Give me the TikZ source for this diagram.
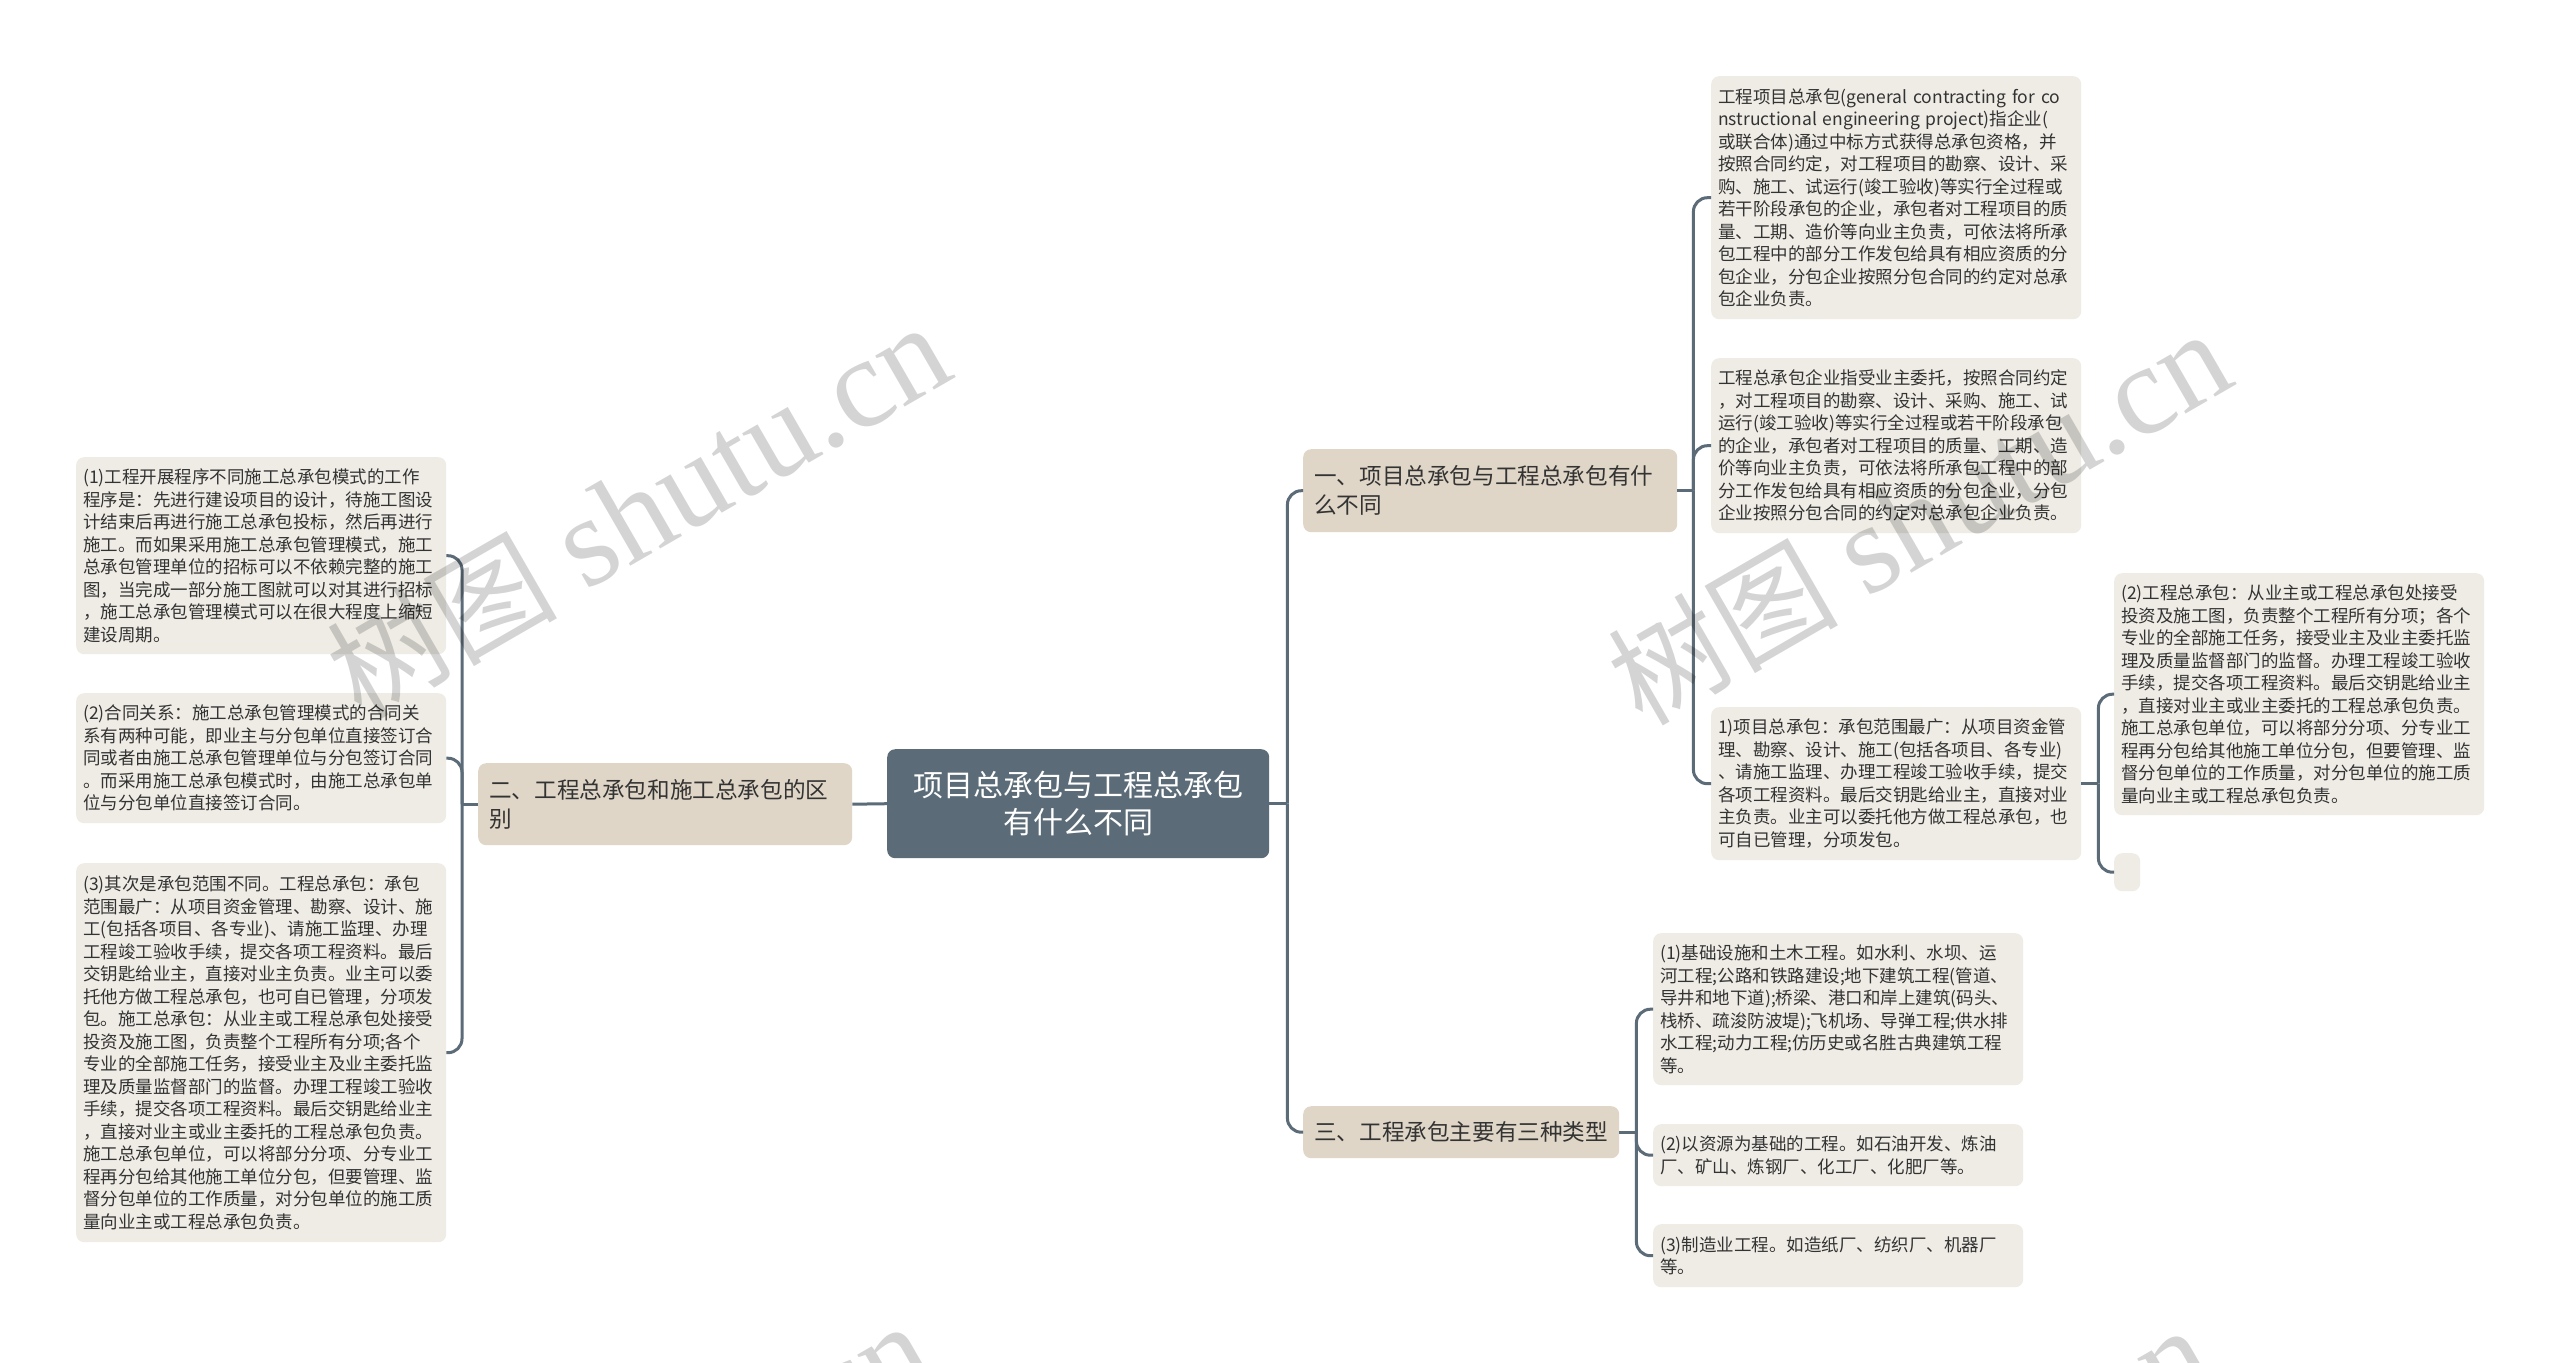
\documentclass[tikz,border=0pt]{standalone}
\usepackage{fontspec}
\setmainfont{Noto Sans CJK SC}
\newfontfamily\wmlatin{Liberation Serif}
\newfontfamily\wmcjk{Noto Sans CJK SC}
\hyphenpenalty=10000
\exhyphenpenalty=10000
\definecolor{slate}{HTML}{5B6B77}
\definecolor{branchfill}{HTML}{DFD6C7}
\definecolor{leaffill}{HTML}{EFECE5}
\definecolor{txt}{HTML}{333333}
\newcommand{\wmtext}{{\wmcjk\fontsize{115}{115}\selectfont 树图}\hspace{28pt}{\wmlatin\fontsize{128}{128}\selectfont shutu.cn}}
\begin{document}
\begin{tikzpicture}[x=1pt,y=-1pt,
  box/.style={anchor=north west, rounded corners=8pt, inner ysep=0pt, align=left, text=txt},
  leaf/.style={box, fill=leaffill, inner xsep=7pt, text width=356pt, minimum height=#1,
    font=\fontsize{17.5}{22.5}\selectfont},
  branch/.style={box, fill=branchfill, inner xsep=11pt, minimum height=#1,
    font=\fontsize{22.6}{29}\selectfont},
  root/.style={anchor=north west, rounded corners=8pt, fill=slate, text=white, align=center,
    inner xsep=11pt, inner ysep=0pt, text width=360pt, minimum height=109pt,
    font=\fontsize{30}{37.5}\selectfont},
  conn/.style={draw=slate, line width=3pt, rounded corners=14pt},
  wm/.style={rotate=30, text=black, text opacity=0.17, inner sep=0pt}
]
\fill[white] (0,0) rectangle (2560,1363);
\useasboundingbox (0,0) rectangle (2560,1363);

% root and branches
\node[root] (ctr) at (887,749) {项目总承包与工程总承包\\有什么不同};
\node[branch=82pt, text width=352pt] (b2) at (478,763) {二、工程总承包和施工总承包的区\\别};
\node[branch=83pt, text width=352pt] (b1) at (1303,449) {一、项目总承包与工程总承包有什\\么不同};
\node[branch=52pt, text width=294pt] (b3) at (1303,1106) {三、工程承包主要有三种类型};

% right branch 1 leaves
\node[leaf=243pt] (A) at (1711,76) {工程项目总承包(general~contracting~for~co\\nstructional~engineering~project)指企业(\\或联合体)通过中标方式获得总承包资格，并\\按照合同约定，对工程项目的勘察、设计、采\\购、施工、试运行(竣工验收)等实行全过程或\\若干阶段承包的企业，承包者对工程项目的质\\量、工期、造价等向业主负责，可依法将所承\\包工程中的部分工作发包给具有相应资质的分\\包企业，分包企业按照分包合同的约定对总承\\包企业负责。};
\node[leaf=175pt] (B) at (1711,358) {工程总承包企业指受业主委托，按照合同约定\\，对工程项目的勘察、设计、采购、施工、试\\运行(竣工验收)等实行全过程或若干阶段承包\\的企业，承包者对工程项目的质量、工期、造\\价等向业主负责，可依法将所承包工程中的部\\分工作发包给具有相应资质的分包企业，分包\\企业按照分包合同的约定对总承包企业负责。};
\node[leaf=153pt] (C) at (1711,707) {1)项目总承包：承包范围最广：从项目资金管\\理、勘察、设计、施工(包括各项目、各专业)\\、请施工监理、办理工程竣工验收手续，提交\\各项工程资料。最后交钥匙给业主，直接对业\\主负责。业主可以委托他方做工程总承包，也\\可自已管理，分项发包。};
\node[leaf=242pt] (D) at (2114,573) {(2)工程总承包：从业主或工程总承包处接受\\投资及施工图，负责整个工程所有分项；各个\\专业的全部施工任务，接受业主及业主委托监\\理及质量监督部门的监督。办理工程竣工验收\\手续，提交各项工程资料。最后交钥匙给业主\\，直接对业主或业主委托的工程总承包负责。\\施工总承包单位，可以将部分分项、分专业工\\程再分包给其他施工单位分包，但要管理、监\\督分包单位的工作质量，对分包单位的施工质\\量向业主或工程总承包负责。};
\node[box, fill=leaffill, inner sep=0pt, minimum width=26pt, minimum height=38pt] (E) at (2114,853) {};

% right branch 3 leaves
\node[leaf=152pt] (F) at (1653,933) {(1)基础设施和土木工程。如水利、水坝、运\\河工程;公路和铁路建设;地下建筑工程(管道、\\导井和地下道);桥梁、港口和岸上建筑(码头、\\栈桥、疏浚防波堤);飞机场、导弹工程;供水排\\水工程;动力工程;仿历史或名胜古典建筑工程\\等。};
\node[leaf=62pt] (G) at (1653,1124) {(2)以资源为基础的工程。如石油开发、炼油\\厂、矿山、炼钢厂、化工厂、化肥厂等。};
\node[leaf=63pt] (H) at (1653,1224) {(3)制造业工程。如造纸厂、纺织厂、机器厂\\等。};

% left leaves
\node[leaf=197pt] (L1) at (76,457) {(1)工程开展程序不同施工总承包模式的工作\\程序是：先进行建设项目的设计，待施工图设\\计结束后再进行施工总承包投标，然后再进行\\施工。而如果采用施工总承包管理模式，施工\\总承包管理单位的招标可以不依赖完整的施工\\图，当完成一部分施工图就可以对其进行招标\\，施工总承包管理模式可以在很大程度上缩短\\建设周期。};
\node[leaf=130pt] (L2) at (76,693) {(2)合同关系：施工总承包管理模式的合同关\\系有两种可能，即业主与分包单位直接签订合\\同或者由施工总承包管理单位与分包签订合同\\。而采用施工总承包模式时，由施工总承包单\\位与分包单位直接签订合同。};
\node[leaf=379pt] (L3) at (76,863) {(3)其次是承包范围不同。工程总承包：承包\\范围最广：从项目资金管理、勘察、设计、施\\工(包括各项目、各专业)、请施工监理、办理\\工程竣工验收手续，提交各项工程资料。最后\\交钥匙给业主，直接对业主负责。业主可以委\\托他方做工程总承包，也可自已管理，分项发\\包。施工总承包：从业主或工程总承包处接受\\投资及施工图，负责整个工程所有分项;各个\\专业的全部施工任务，接受业主及业主委托监\\理及质量监督部门的监督。办理工程竣工验收\\手续，提交各项工程资料。最后交钥匙给业主\\，直接对业主或业主委托的工程总承包负责。\\施工总承包单位，可以将部分分项、分专业工\\程再分包给其他施工单位分包，但要管理、监\\督分包单位的工作质量，对分包单位的施工质\\量向业主或工程总承包负责。};

% connectors
\draw[conn] (ctr.west) -- (b2.east);
\draw[conn] (ctr.east) -- ++(18,0) coordinate (tR);
\draw[conn] (tR) |- (b1.west);
\draw[conn] (tR) |- (b3.west);

\draw[conn] (b2.west) -- ++(-16,0) coordinate (tL);
\draw[conn] (tL) |- (L1.east);
\draw[conn] (tL) |- (L2.east);
\draw[conn] (tL) |- (L3.east);

\draw[conn] (b1.east) -- ++(16,0) coordinate (tA);
\draw[conn] (tA) |- (A.west);
\draw[conn] (tA) |- (B.west);
\draw[conn] (tA) |- (C.west);

\draw[conn] (C.east) -- ++(17,0) coordinate (tC);
\draw[conn] (tC) |- (D.west);
\draw[conn] (tC) |- (E.west);

\draw[conn] (b3.east) -- ++(17,0) coordinate (tF);
\draw[conn] (tF) |- (F.west);
\draw[conn] (tF) |- (G.west);
\draw[conn] (tF) |- (H.west);

% watermarks
\begin{scope}
\clip (0,0) rectangle (2560,1363);
\node[wm] (wm1) at (638,511) {\wmtext};
\node[wm] (wm2) at (1919,518) {\wmtext};
\node[wm] (wm3) at (620,1510) {\wmtext};
\node[wm] (wm4) at (1900,1514) {\wmtext};
\end{scope}
\end{tikzpicture}
\end{document}
